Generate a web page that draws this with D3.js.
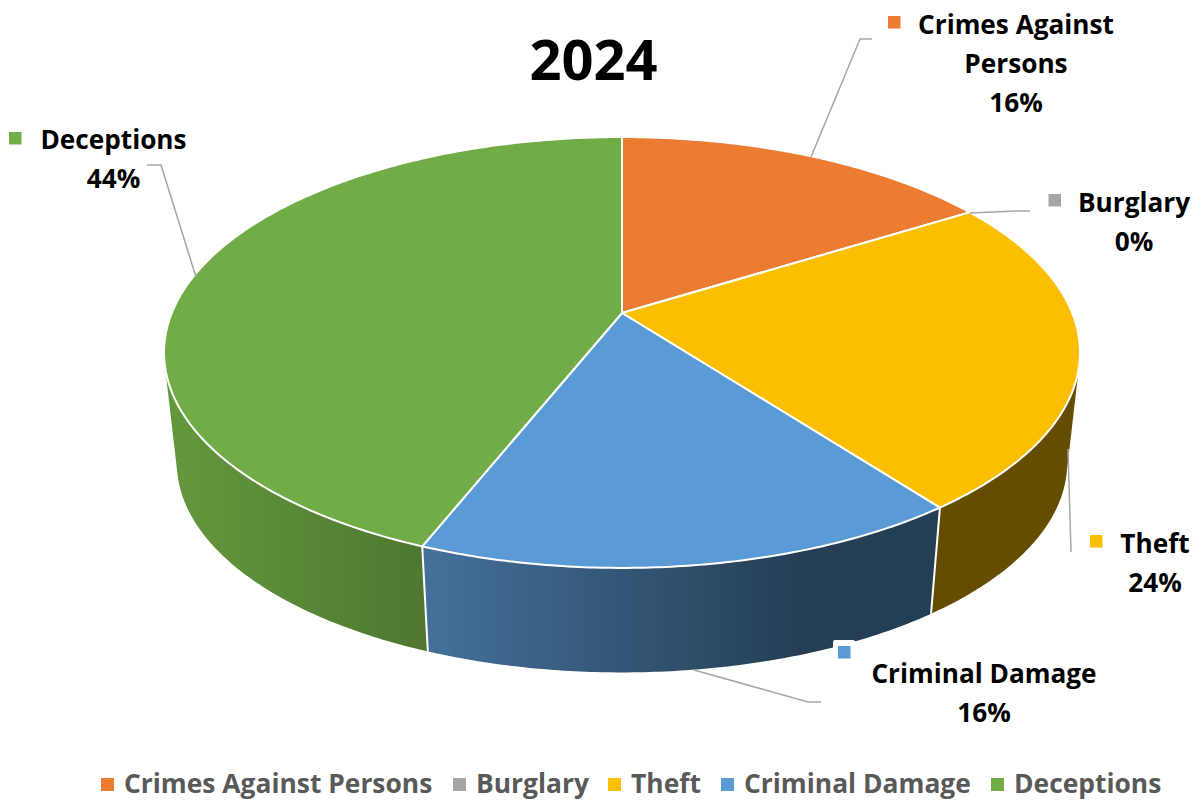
<!DOCTYPE html>
<html>
<head>
<meta charset="utf-8">
<script src="https://cdn.jsdelivr.net/npm/d3@7"></script>
<style>
  body { margin: 0; background: #fff; }
  text { font-family: "Open Sans", sans-serif; font-weight: 700; }
</style>
</head>
<body>
<svg id="chart" width="1200" height="800"></svg>
<script>
// data, clockwise from 12 o'clock
var categories = ["Crimes Against Persons", "Burglary", "Theft", "Criminal Damage", "Deceptions"];
var shares = [16.1, 0, 23.6, 16.3, 44];
var percentLabels = ["16%", "0%", "24%", "16%", "44%"];
var colors = ["#EC7C32", "#A5A5A5", "#FBBE00", "#5B9BD5", "#70AD47"];
var titleText = "2024";

var svg = d3.select("#chart");

// perspective settings for the tilted disc
var cx = 622, cy = 313;        // where the slices meet on screen
var ax = 450.2, ay = 208.2;    // radii before perspective
var tilt = 0.1833;             // near edge bigger than far edge
var vanishY = 4300;            // wall edges run to this point below the pie
var wallScale = 0.972;         // bottom rim relative to top rim

var slices = d3.pie().sort(null).value(function(d) { return d; })(shares);

function rim(a) {
  var w = 1 + tilt * Math.cos(a);
  return [cx + ax * Math.sin(a) / w, cy - ay * Math.cos(a) / w];
}
function lowerRim(a) {
  var p = rim(a);
  return [cx + (p[0] - cx) * wallScale, vanishY + (p[1] - vanishY) * wallScale];
}
function arcAngles(a0, a1) {
  var n = Math.max(2, Math.ceil((a1 - a0) / 0.01));
  return d3.range(n + 1).map(function(i) { return a0 + (a1 - a0) * i / n; });
}

var line = d3.line();

function topPath(s) {
  return line([[cx, cy]].concat(arcAngles(s.startAngle, s.endAngle).map(rim))) + "Z";
}

// the wall is a strip of small quads, only the ones facing the viewer are kept
function sidePath(s) {
  var angles = arcAngles(s.startAngle, s.endAngle);
  var d = "";
  d3.pairs(angles).forEach(function(pair) {
    var quad = [rim(pair[0]), rim(pair[1]), lowerRim(pair[1]), lowerRim(pair[0])];
    if (d3.polygonArea(quad) > 0) d += line(quad) + "Z";
  });
  return d;
}

// horizontal shading of the walls
var defs = svg.append("defs");
var shade = [
  { id: "wall2", stops: [["0%", "#654C00"], ["100%", "#654C00"]], x1: 930, x2: 1080 },
  { id: "wall3", stops: [["0%", "#44709A"], ["75%", "#243E54"], ["100%", "#243E54"]], x1: 425, x2: 935 },
  { id: "wall4", stops: [["0%", "#63993D"], ["100%", "#4E7630"]], x1: 165, x2: 430 }
];
shade.forEach(function(g) {
  var lg = defs.append("linearGradient").attr("id", g.id)
    .attr("gradientUnits", "userSpaceOnUse")
    .attr("x1", g.x1).attr("x2", g.x2).attr("y1", 0).attr("y2", 0);
  g.stops.forEach(function(st) {
    lg.append("stop").attr("offset", st[0]).attr("stop-color", st[1]);
  });
});

// walls first, the top faces hide whatever is behind
var walls = slices.filter(function(d) { return d.index >= 2; });

svg.selectAll("path.side")
  .data(walls)
  .enter()
  .append("path")
  .attr("class", "side")
  .attr("d", sidePath)
  .attr("fill", function(d) { return "url(#wall" + d.index + ")"; });

// white seams where two walls meet
svg.selectAll("path.seam")
  .data(walls.slice(1))
  .enter()
  .append("path")
  .attr("class", "seam")
  .attr("d", function(d) { return line([rim(d.startAngle), lowerRim(d.startAngle)]); })
  .attr("stroke", "#fff")
  .attr("stroke-width", 2);

svg.selectAll("path.top")
  .data(slices)
  .enter()
  .append("path")
  .attr("class", "top")
  .attr("d", topPath)
  .attr("fill", function(d, i) { return colors[i]; })
  .attr("stroke", "#fff")
  .attr("stroke-width", 2);

// title
svg.append("text")
  .attr("x", 593.5).attr("y", 80)
  .attr("text-anchor", "middle")
  .style("font-size", "56px")
  .text(titleText);

// data labels: lines of text, marker and leader line per slice
var labelSpec = [
  { lines: ["Crimes Against", "Persons"], x: 1016, y: 34, key: [888, 16], leader: [[811, 157], [860, 39], [872, 39]] },
  { lines: ["Burglary"], x: 1134, y: 212, key: [1048.5, 194], leader: [[970, 213], [1015, 211], [1030, 211]] },
  { lines: ["Theft"], x: 1155, y: 553, key: [1090, 535], leader: [[1068, 449], [1071, 552]] },
  { lines: ["Criminal Damage"], x: 984, y: 683, key: [838, 646], leader: [[694, 670], [808, 702], [821, 702]] },
  { lines: ["Deceptions"], x: 113.5, y: 149, key: [9, 132], leader: [[196, 277], [161, 165], [147, 165]] }
];

labelSpec.forEach(function(spec, i) {
  svg.append("path")
    .attr("d", line(spec.leader))
    .attr("fill", "none")
    .attr("stroke", "#A6A6A6")
    .attr("stroke-width", 1.5);
  // the damage label has a white box that bites into the wall
  if (i == 3) {
    svg.append("rect")
      .attr("x", spec.key[0] - 5).attr("y", spec.key[1] - 6)
      .attr("width", 22).attr("height", 22)
      .attr("rx", 2)
      .attr("fill", "#fff");
  }
  svg.append("rect")
    .attr("x", spec.key[0]).attr("y", spec.key[1])
    .attr("width", 12.5).attr("height", 12.5)
    .attr("fill", colors[i]);
  spec.lines.concat(percentLabels[i]).forEach(function(t, j) {
    svg.append("text")
      .attr("x", spec.x)
      .attr("y", spec.y + j * 39)
      .attr("text-anchor", "middle")
      .style("font-size", "26.2px")
      .attr("fill", "#000")
      .text(t);
  });
});

// legend at the bottom
var legendX = [101, 453, 608, 721, 991];
categories.forEach(function(name, i) {
  svg.append("rect")
    .attr("x", legendX[i]).attr("y", 778)
    .attr("width", 13).attr("height", 13)
    .attr("fill", colors[i]);
  svg.append("text")
    .attr("x", legendX[i] + 23).attr("y", 793)
    .style("font-size", "26.4px")
    .attr("fill", "#595959")
    .text(name);
});
</script>
</body>
</html>
